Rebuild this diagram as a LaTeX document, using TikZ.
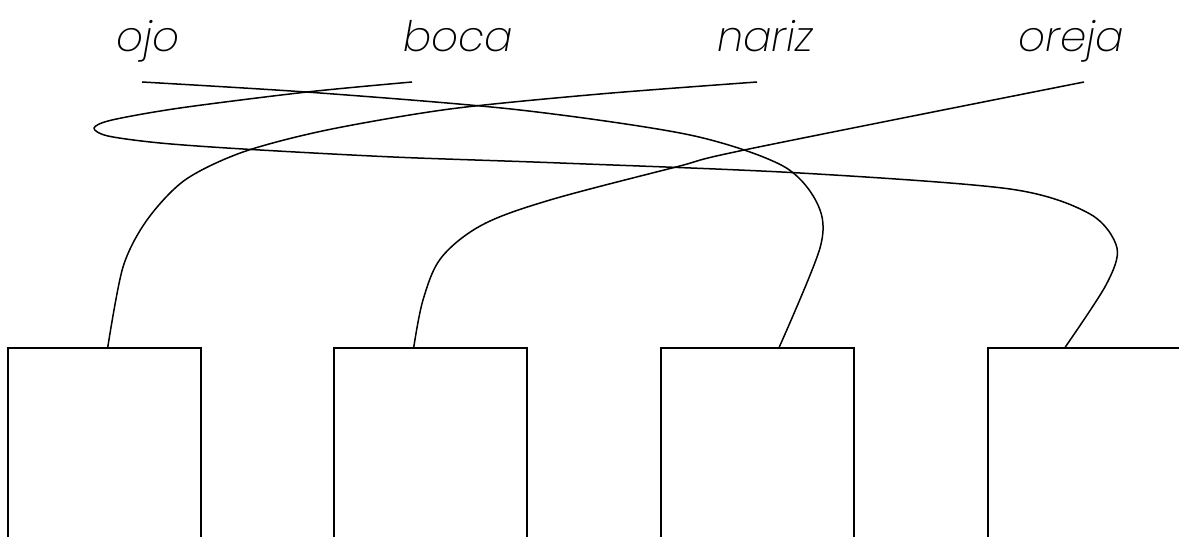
\documentclass[tikz,border=0pt]{standalone}
\usepackage{fontspec}
\newfontfamily\cursivebase{Poppins ExtraLight Italic}
\newcommand\cursivefont{\cursivebase\fontsize{42}{48}\selectfont}
\begin{document}
\begin{tikzpicture}[x=1pt,y=-1pt,
  box/.style={draw, line width=1.6pt, minimum width=193pt, minimum height=260pt, anchor=north west, inner sep=0pt},
  word/.style={anchor=base, font=\cursivefont, inner sep=0pt},
  link/.style={line width=1.5pt, line join=round}]
\useasboundingbox (0,0) rectangle (1179,537);
\clip (0,0) rectangle (1179,537);
% words
\node[word] (w1) at (148,52) {ojo};
\node[word] (w2) at (458,52) {boca};
\node[word] (w3) at (765,52) {nariz};
\node[word] (w4) at (1071,52) {oreja};
% answer start points (under the words)
\coordinate (u1) at (142,82);
\coordinate (u2) at (412,82);
\coordinate (u3) at (757,82);
\coordinate (u4) at (1084,82);
% boxes
\node[box] (b1) at (7,347) {};
\node[box] (b2) at (333,347) {};
\node[box] (b3) at (660,347) {};
\node[box] (b4) at (987,347) {};
\coordinate (e1) at ([xshift=3.5pt]b1.north);
\coordinate (e2) at ([xshift=-16.5pt]b2.north);
\coordinate (e3) at ([xshift=22pt]b3.north);
\coordinate (e4) at ([xshift=-19pt]b4.north);
% connectors
\draw[link] plot[smooth, tension=0.5] coordinates {(u1) (320,93) (520,110) (690,135) (783,166) (818,205) (820,248) (e3)};
\draw[link] plot[smooth, tension=0.5] coordinates {(u2) (307,92) (180,108) (112,120) (94,128) (108,136) (160,143) (243,149) (393,157) (560,163) (800,173) (1010,189) (1090,214) (1117,248) (1106,285) (e4)};
\draw[link] plot[smooth, tension=0.5] coordinates {(u3) (600,94) (450,109) (327,130) (243,152) (185,180) (147,220) (123,267) (e1)};
\draw[link] plot[smooth, tension=0.55] coordinates {(u4) (749,149) (676,167) (550,200) (482,225) (441,258) (423,300) (e2)};
\end{tikzpicture}
\end{document}
